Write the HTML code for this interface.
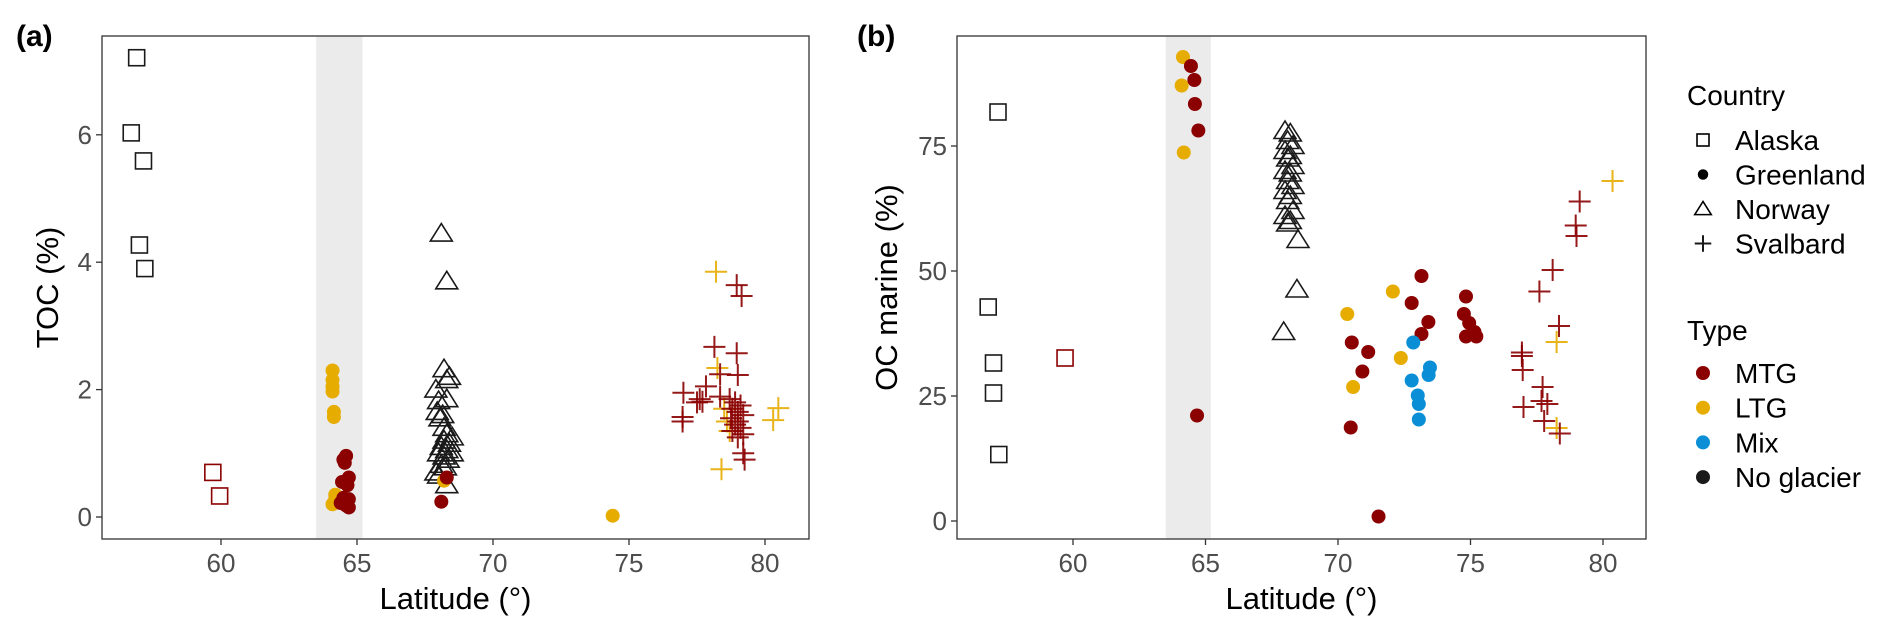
<!DOCTYPE html>
<html><head><meta charset="utf-8">
<style>
html,body{margin:0;padding:0;background:#fff;}
svg{display:block;font-family:"Liberation Sans",Arial,sans-serif;}
</style></head>
<body>
<svg id="chart" width="1892" height="635" viewBox="0 0 1892 635" xmlns="http://www.w3.org/2000/svg">
<g id="panelA"></g>
<g id="panelB"></g>
<g id="legend"></g>
</svg>
<script>
// ---------- Panel (a) data: TOC (%) ----------
const aAlaskaNoneLat = [56.9, 56.7, 57.15, 57.0, 57.2];
const aAlaskaNoneVal = [7.21, 6.03, 5.59, 4.27, 3.90];
const aAlaskaMtgLat = [59.7, 59.95];
const aAlaskaMtgVal = [0.70, 0.33];
const aGreenLtgLat = [64.1, 64.1, 64.1, 64.1, 64.15, 64.15, 64.2, 64.2, 64.1, 68.2, 74.4];
const aGreenLtgVal = [2.30, 2.15, 2.05, 1.97, 1.65, 1.57, 0.35, 0.28, 0.2, 0.57, 0.02];
const aGreenMtgLat = [64.6, 64.5, 64.55, 64.7, 64.45, 64.65, 64.5, 64.7, 64.4, 64.6, 64.7, 68.3, 68.1];
const aGreenMtgVal = [0.96, 0.9, 0.85, 0.62, 0.55, 0.5, 0.3, 0.28, 0.22, 0.18, 0.15, 0.62, 0.24];
const aNorwayLat = [68.1, 68.3, 68.2, 68.4, 68.3, 67.9, 68.0, 68.3, 67.95, 68.15, 68.05, 68.2, 68.3, 68.5, 68.2, 68.4, 68.1, 68.3, 68.0, 68.5, 68.2, 68.35, 68.1, 68.25, 67.9, 68.0, 68.3];
const aNorwayVal = [4.45, 3.7, 2.32, 2.2, 2.15, 2.0, 1.82, 1.85, 1.65, 1.6, 1.55, 1.4, 1.3, 1.25, 1.2, 1.15, 1.1, 1.05, 1.0, 1.0, 0.95, 0.9, 0.82, 0.78, 0.7, 0.65, 0.5];
const aSvalMtgLat = [78.96, 79.14, 78.14, 78.96, 78.35, 79.0, 77.0, 77.83, 77.7, 77.6, 77.5, 78.35, 76.97, 76.97, 78.7, 78.9, 79.1, 78.8, 79.0, 79.2, 78.75, 79.0, 78.9, 79.1, 78.8, 79.2, 79.0, 79.2, 79.25];
const aSvalMtgVal = [3.64, 3.47, 2.67, 2.57, 2.24, 2.23, 1.95, 2.05, 1.81, 1.85, 1.8, 1.89, 1.57, 1.5, 1.85, 1.8, 1.75, 1.7, 1.65, 1.6, 1.55, 1.5, 1.45, 1.4, 1.35, 1.3, 1.25, 1.0, 0.9];
const aSvalLtgLat = [78.2, 78.25, 80.49, 80.3, 78.5, 78.6, 78.7, 78.4];
const aSvalLtgVal = [3.85, 2.34, 1.71, 1.52, 1.7, 1.5, 1.35, 0.75];
const aYTicks = [0, 2, 4, 6];
const xTicks = [60, 65, 70, 75, 80];

// ---------- Panel (b) data: OC marine (%) ----------
const bAlaskaNoneLat = [57.17, 56.8, 57.0, 57.0, 57.2];
const bAlaskaNoneVal = [81.8, 42.8, 31.6, 25.6, 13.3];
const bAlaskaMtgLat = [59.7];
const bAlaskaMtgVal = [32.6];
const bGreenLtgLat = [64.15, 64.1, 64.18, 70.35, 70.57, 72.07, 72.37];
const bGreenLtgVal = [92.8, 87.1, 73.7, 41.4, 26.8, 45.9, 32.6];
const bGreenMtgLat = [64.45, 64.58, 64.6, 64.73, 64.68, 70.52, 71.14, 70.92, 70.48, 71.53, 72.78, 73.15, 73.41, 73.15, 74.83, 74.75, 74.95, 74.83, 75.15, 75.22];
const bGreenMtgVal = [91, 88.2, 83.4, 78.1, 21.1, 35.7, 33.8, 29.9, 18.7, 0.9, 43.6, 49.0, 39.8, 37.4, 44.9, 41.4, 39.6, 36.9, 37.8, 36.9];
const bGreenMixLat = [72.84, 73.47, 73.42, 72.78, 73.01, 73.05, 73.05];
const bGreenMixVal = [35.7, 30.7, 29.2, 28.1, 25.1, 23.4, 20.3];
const bNorwayLat = [68.0, 68.2, 68.1, 68.3, 68.0, 68.2, 68.1, 68.3, 68.0, 68.2, 68.1, 68.3, 68.0, 68.2, 68.1, 68.3, 68.0, 68.2, 68.1, 68.49, 68.45, 67.95];
const bNorwayVal = [78, 77.5, 76, 75, 74, 73, 72.5, 71, 70, 69.5, 68, 67, 66, 65, 64, 62, 61, 60, 59.5, 56.2, 46.3, 37.8];
const bSvalMtgLat = [79.12, 78.97, 79.0, 78.1, 77.6, 78.34, 76.94, 76.94, 76.97, 77.72, 77.68, 77.9, 77.0, 77.78, 78.37];
const bSvalMtgVal = [63.9, 59.1, 57.0, 50.2, 45.9, 39.0, 33.7, 33.0, 30.2, 26.8, 24.0, 23.4, 22.8, 20.0, 17.5];
const bSvalLtgLat = [80.36, 78.25, 78.25];
const bSvalLtgVal = [68, 35.8, 18.6];
const bYTicks = [0, 25, 50, 75];

const shadeRange = [63.5, 65.2];
const legendCountries = ["Alaska", "Greenland", "Norway", "Svalbard"];
const legendTypes = ["MTG", "LTG", "Mix", "No glacier"];

const COL = {MTG: "#8b0000", LTG: "#e6ac00", Mix: "#0a8fd6", None: "#1a1a1a"};
const NS = "http://www.w3.org/2000/svg";
function mk(tag, attrs, parent) {
  const e = document.createElementNS(NS, tag);
  for (const k in attrs) e.setAttribute(k, attrs[k]);
  parent.appendChild(e);
  return e;
}
function marker(g, shape, cx, cy, color, scale) {
  const s = scale || 1;
  let e;
  if (shape === "square") {
    const h = 8 * s;
    e = mk("rect", {x: cx - h, y: cy - h, width: 2 * h, height: 2 * h, fill: "none", stroke: color, "stroke-width": 1.6}, g);
  } else if (shape === "dot") {
    e = mk("circle", {cx: cx, cy: cy, r: 7 * s, fill: color}, g);
  } else if (shape === "triangle") {
    const h = 10 * s;
    e = mk("polygon", {points: `${cx},${cy - h} ${cx - h * 1.1},${cy + h * 0.75} ${cx + h * 1.1},${cy + h * 0.75}`, fill: "none", stroke: color, "stroke-width": 1.6}, g);
  } else {
    const h = 11 * s;
    e = mk("path", {d: `M${cx - h},${cy}H${cx + h}M${cx},${cy - h}V${cy + h}`, stroke: color, "stroke-width": 2, fill: "none", opacity: 0.9}, g);
  }
  return e;
}

function panel(g, cfg) {
  const xs = v => cfg.x0 + (v - 60) * cfg.xk;
  const ys = v => cfg.y0 - v * cfg.yk;
  const band = mk("rect", {x: xs(shadeRange[0]), y: cfg.top, width: xs(shadeRange[1]) - xs(shadeRange[0]), height: cfg.bottom - cfg.top, fill: "#ebebeb"}, g);
  
  
  const series = g.appendChild(document.createElementNS(NS, "g"));
  
  
  cfg.series.forEach(s => {
    s.lat.forEach((la, i) => {
      const m = marker(series, s.shape, xs(la), ys(s.val[i]), s.color);
      
      
    });
  });
  const frame = mk("rect", {x: cfg.left, y: cfg.top, width: cfg.right - cfg.left, height: cfg.bottom - cfg.top, fill: "none", stroke: "#333", "stroke-width": 1.3}, g);
  
  
  xTicks.forEach(t => {
    const x = xs(t);
    const tl = mk("line", {x1: x, x2: x, y1: cfg.bottom, y2: cfg.bottom + 6, stroke: "#333", "stroke-width": 1.3}, g);
    
    
    const tx = mk("text", {x: x, y: cfg.bottom + 33, "text-anchor": "middle", "font-size": 26, fill: "#4d4d4d"}, g);
    tx.textContent = t;
    
    
  });
  cfg.yTicks.forEach(t => {
    const y = ys(t);
    const tl = mk("line", {x1: cfg.left - 6, x2: cfg.left, y1: y, y2: y, stroke: "#333", "stroke-width": 1.3}, g);
    
    
    const tx = mk("text", {x: cfg.left - 10, y: y + 9, "text-anchor": "end", "font-size": 26, fill: "#4d4d4d"}, g);
    tx.textContent = t;
    
    
  });
  const xt = mk("text", {x: (cfg.left + cfg.right) / 2, y: 609, "text-anchor": "middle", "font-size": 31, fill: "#000"}, g);
  xt.textContent = "Latitude (°)";
  
  
  const yt = mk("text", {x: 0, y: 0, "text-anchor": "middle", "font-size": 31, fill: "#000", transform: `translate(${cfg.ytx},${(cfg.top + cfg.bottom) / 2}) rotate(-90)`}, g);
  yt.textContent = cfg.ytitle;
  
  
  const pl = mk("text", {x: cfg.lx, y: 46, "font-size": 30, "font-weight": "bold", fill: "#000"}, g);
  pl.textContent = cfg.label;
  
  
}

panel(document.getElementById("panelA"), {
  left: 102, right: 809, top: 36, bottom: 539, x0: 221, xk: 27.2, y0: 517, yk: 63.7,
  yTicks: aYTicks, ytitle: "TOC (%)", ytx: 58, label: "(a)", lx: 16,
  series: [
    {name: "alaska-no-glacier", shape: "square", color: COL.None, lat: aAlaskaNoneLat, val: aAlaskaNoneVal},
    {name: "alaska-mtg", shape: "square", color: COL.MTG, lat: aAlaskaMtgLat, val: aAlaskaMtgVal},
    {name: "norway-no-glacier", shape: "triangle", color: COL.None, lat: aNorwayLat, val: aNorwayVal},
    {name: "greenland-ltg", shape: "dot", color: COL.LTG, lat: aGreenLtgLat, val: aGreenLtgVal},
    {name: "greenland-mtg", shape: "dot", color: COL.MTG, lat: aGreenMtgLat, val: aGreenMtgVal},
    {name: "svalbard-ltg", shape: "cross", color: COL.LTG, lat: aSvalLtgLat, val: aSvalLtgVal},
    {name: "svalbard-mtg", shape: "cross", color: COL.MTG, lat: aSvalMtgLat, val: aSvalMtgVal}
  ]
});
panel(document.getElementById("panelB"), {
  left: 957, right: 1646, top: 36, bottom: 539, x0: 1073, xk: 26.5, y0: 521, yk: 5.0,
  yTicks: bYTicks, ytitle: "OC marine (%)", ytx: 897, label: "(b)", lx: 857,
  series: [
    {name: "alaska-no-glacier", shape: "square", color: COL.None, lat: bAlaskaNoneLat, val: bAlaskaNoneVal},
    {name: "alaska-mtg", shape: "square", color: COL.MTG, lat: bAlaskaMtgLat, val: bAlaskaMtgVal},
    {name: "norway-no-glacier", shape: "triangle", color: COL.None, lat: bNorwayLat, val: bNorwayVal},
    {name: "greenland-ltg", shape: "dot", color: COL.LTG, lat: bGreenLtgLat, val: bGreenLtgVal},
    {name: "greenland-mtg", shape: "dot", color: COL.MTG, lat: bGreenMtgLat, val: bGreenMtgVal},
    {name: "greenland-mix", shape: "dot", color: COL.Mix, lat: bGreenMixLat, val: bGreenMixVal},
    {name: "svalbard-ltg", shape: "cross", color: COL.LTG, lat: bSvalLtgLat, val: bSvalLtgVal},
    {name: "svalbard-mtg", shape: "cross", color: COL.MTG, lat: bSvalMtgLat, val: bSvalMtgVal}
  ]
});

// legend
(function () {
  const g = document.getElementById("legend");
  const t1 = mk("text", {x: 1687, y: 105, "font-size": 28, fill: "#000"}, g);
  t1.textContent = "Country";
  
  
  const shapes = ["square", "dot", "triangle", "cross"];
  legendCountries.forEach((c, i) => {
    const y = 140 + i * 34.5;
    const m = marker(g, shapes[i], 1703, y, "#000", 0.75);
    
    
    const t = mk("text", {x: 1735, y: y + 10, "font-size": 28, fill: "#000"}, g);
    t.textContent = c;
    
    
  });
  const t2 = mk("text", {x: 1687, y: 340, "font-size": 28, fill: "#000"}, g);
  t2.textContent = "Type";
  
  
  const cols = [COL.MTG, COL.LTG, COL.Mix, COL.None];
  legendTypes.forEach((c, i) => {
    const y = 373 + i * 34.7;
    const m = marker(g, "dot", 1703, y, cols[i], 1);
    
    
    const t = mk("text", {x: 1735, y: y + 10, "font-size": 28, fill: "#000"}, g);
    t.textContent = c;
    
    
  });
})();
</script>
</body></html>
